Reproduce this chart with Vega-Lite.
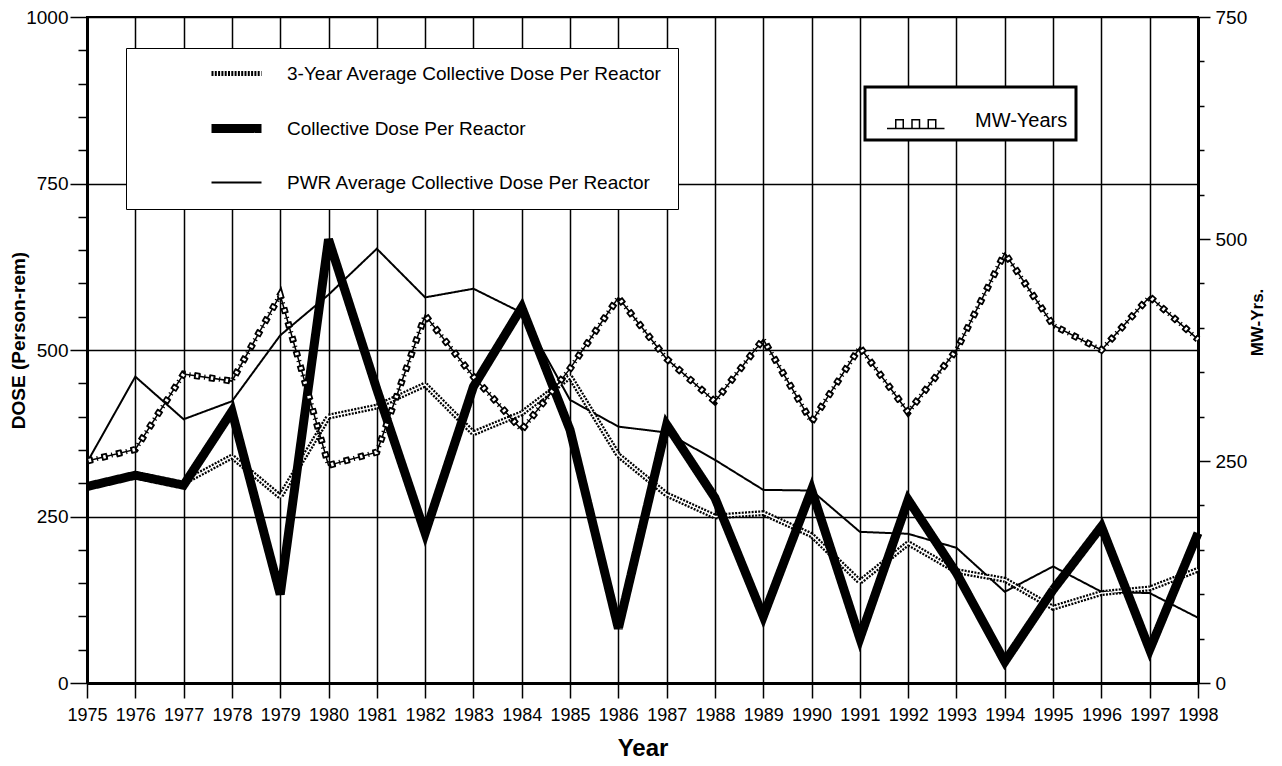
{
  "$schema": "https://vega.github.io/schema/vega-lite/v6.json",
  "width": 1111,
  "height": 666,
  "autosize": "none",
  "padding": {"left": 87, "top": 17, "right": 84, "bottom": 83},
  "background": "white",
  "config": {
    "view": {"stroke": "black", "strokeWidth": 2},
    "axis": {"labelColor": "black", "titleColor": "black", "domainColor": "black", "tickColor": "black", "gridColor": "black"}
  },
  "datasets": {
    "dose": [
      {"year": 1975, "series": "Collective Dose Per Reactor", "value": 295},
      {"year": 1976, "series": "Collective Dose Per Reactor", "value": 312},
      {"year": 1977, "series": "Collective Dose Per Reactor", "value": 297},
      {"year": 1978, "series": "Collective Dose Per Reactor", "value": 408},
      {"year": 1979, "series": "Collective Dose Per Reactor", "value": 133},
      {"year": 1980, "series": "Collective Dose Per Reactor", "value": 666},
      {"year": 1981, "series": "Collective Dose Per Reactor", "value": 441},
      {"year": 1982, "series": "Collective Dose Per Reactor", "value": 225},
      {"year": 1983, "series": "Collective Dose Per Reactor", "value": 445},
      {"year": 1984, "series": "Collective Dose Per Reactor", "value": 564},
      {"year": 1985, "series": "Collective Dose Per Reactor", "value": 380},
      {"year": 1986, "series": "Collective Dose Per Reactor", "value": 82},
      {"year": 1987, "series": "Collective Dose Per Reactor", "value": 388},
      {"year": 1988, "series": "Collective Dose Per Reactor", "value": 278},
      {"year": 1989, "series": "Collective Dose Per Reactor", "value": 100},
      {"year": 1990, "series": "Collective Dose Per Reactor", "value": 290},
      {"year": 1991, "series": "Collective Dose Per Reactor", "value": 67},
      {"year": 1992, "series": "Collective Dose Per Reactor", "value": 275},
      {"year": 1993, "series": "Collective Dose Per Reactor", "value": 165},
      {"year": 1994, "series": "Collective Dose Per Reactor", "value": 32},
      {"year": 1995, "series": "Collective Dose Per Reactor", "value": 140},
      {"year": 1996, "series": "Collective Dose Per Reactor", "value": 235},
      {"year": 1997, "series": "Collective Dose Per Reactor", "value": 50},
      {"year": 1998, "series": "Collective Dose Per Reactor", "value": 225},
      {"year": 1975, "series": "PWR Average Collective Dose Per Reactor", "value": 331},
      {"year": 1976, "series": "PWR Average Collective Dose Per Reactor", "value": 460},
      {"year": 1977, "series": "PWR Average Collective Dose Per Reactor", "value": 396},
      {"year": 1978, "series": "PWR Average Collective Dose Per Reactor", "value": 423},
      {"year": 1979, "series": "PWR Average Collective Dose Per Reactor", "value": 522},
      {"year": 1980, "series": "PWR Average Collective Dose Per Reactor", "value": 583},
      {"year": 1981, "series": "PWR Average Collective Dose Per Reactor", "value": 652},
      {"year": 1982, "series": "PWR Average Collective Dose Per Reactor", "value": 579},
      {"year": 1983, "series": "PWR Average Collective Dose Per Reactor", "value": 592},
      {"year": 1984, "series": "PWR Average Collective Dose Per Reactor", "value": 556},
      {"year": 1985, "series": "PWR Average Collective Dose Per Reactor", "value": 425},
      {"year": 1986, "series": "PWR Average Collective Dose Per Reactor", "value": 385},
      {"year": 1987, "series": "PWR Average Collective Dose Per Reactor", "value": 376},
      {"year": 1988, "series": "PWR Average Collective Dose Per Reactor", "value": 335},
      {"year": 1989, "series": "PWR Average Collective Dose Per Reactor", "value": 290},
      {"year": 1990, "series": "PWR Average Collective Dose Per Reactor", "value": 289},
      {"year": 1991, "series": "PWR Average Collective Dose Per Reactor", "value": 227},
      {"year": 1992, "series": "PWR Average Collective Dose Per Reactor", "value": 224},
      {"year": 1993, "series": "PWR Average Collective Dose Per Reactor", "value": 203},
      {"year": 1994, "series": "PWR Average Collective Dose Per Reactor", "value": 137},
      {"year": 1995, "series": "PWR Average Collective Dose Per Reactor", "value": 175},
      {"year": 1996, "series": "PWR Average Collective Dose Per Reactor", "value": 137},
      {"year": 1997, "series": "PWR Average Collective Dose Per Reactor", "value": 135},
      {"year": 1998, "series": "PWR Average Collective Dose Per Reactor", "value": 98},
      {"year": 1977, "series": "3-Year Average Collective Dose Per Reactor", "value": 301},
      {"year": 1978, "series": "3-Year Average Collective Dose Per Reactor", "value": 340},
      {"year": 1979, "series": "3-Year Average Collective Dose Per Reactor", "value": 280},
      {"year": 1980, "series": "3-Year Average Collective Dose Per Reactor", "value": 400},
      {"year": 1981, "series": "3-Year Average Collective Dose Per Reactor", "value": 415},
      {"year": 1982, "series": "3-Year Average Collective Dose Per Reactor", "value": 448},
      {"year": 1983, "series": "3-Year Average Collective Dose Per Reactor", "value": 375},
      {"year": 1984, "series": "3-Year Average Collective Dose Per Reactor", "value": 405},
      {"year": 1985, "series": "3-Year Average Collective Dose Per Reactor", "value": 460},
      {"year": 1986, "series": "3-Year Average Collective Dose Per Reactor", "value": 342},
      {"year": 1987, "series": "3-Year Average Collective Dose Per Reactor", "value": 283},
      {"year": 1988, "series": "3-Year Average Collective Dose Per Reactor", "value": 250},
      {"year": 1989, "series": "3-Year Average Collective Dose Per Reactor", "value": 255},
      {"year": 1990, "series": "3-Year Average Collective Dose Per Reactor", "value": 222},
      {"year": 1991, "series": "3-Year Average Collective Dose Per Reactor", "value": 152},
      {"year": 1992, "series": "3-Year Average Collective Dose Per Reactor", "value": 210},
      {"year": 1993, "series": "3-Year Average Collective Dose Per Reactor", "value": 168},
      {"year": 1994, "series": "3-Year Average Collective Dose Per Reactor", "value": 155},
      {"year": 1995, "series": "3-Year Average Collective Dose Per Reactor", "value": 113},
      {"year": 1996, "series": "3-Year Average Collective Dose Per Reactor", "value": 135},
      {"year": 1997, "series": "3-Year Average Collective Dose Per Reactor", "value": 142},
      {"year": 1998, "series": "3-Year Average Collective Dose Per Reactor", "value": 170}
    ],
    "mw": [
      {"year": 1975, "label": "MW-Years", "mw": 250},
      {"year": 1976, "label": "MW-Years", "mw": 263},
      {"year": 1977, "label": "MW-Years", "mw": 348},
      {"year": 1978, "label": "MW-Years", "mw": 340},
      {"year": 1979, "label": "MW-Years", "mw": 437},
      {"year": 1980, "label": "MW-Years", "mw": 245},
      {"year": 1981, "label": "MW-Years", "mw": 260},
      {"year": 1982, "label": "MW-Years", "mw": 414},
      {"year": 1983, "label": "MW-Years", "mw": 345},
      {"year": 1984, "label": "MW-Years", "mw": 285},
      {"year": 1985, "label": "MW-Years", "mw": 354},
      {"year": 1986, "label": "MW-Years", "mw": 434},
      {"year": 1987, "label": "MW-Years", "mw": 365},
      {"year": 1988, "label": "MW-Years", "mw": 317},
      {"year": 1989, "label": "MW-Years", "mw": 387},
      {"year": 1990, "label": "MW-Years", "mw": 294},
      {"year": 1991, "label": "MW-Years", "mw": 378},
      {"year": 1992, "label": "MW-Years", "mw": 305},
      {"year": 1993, "label": "MW-Years", "mw": 375},
      {"year": 1994, "label": "MW-Years", "mw": 484},
      {"year": 1995, "label": "MW-Years", "mw": 403},
      {"year": 1996, "label": "MW-Years", "mw": 375},
      {"year": 1997, "label": "MW-Years", "mw": 435},
      {"year": 1998, "label": "MW-Years", "mw": 387}
    ]
  },
  "encoding": {
    "x": {
      "field": "year", "type": "quantitative",
      "scale": {"domain": [1975, 1998], "nice": false, "zero": false},
      "axis": {
        "values": [1975,1976,1977,1978,1979,1980,1981,1982,1983,1984,1985,1986,1987,1988,1989,1990,1991,1992,1993,1994,1995,1996,1997,1998],
        "format": "d", "title": "Year", "labelOverlap": false, "labelFlush": false,
        "grid": true, "gridWidth": 1.5,
        "domainWidth": 3, "tickSize": 15, "tickWidth": 1.5,
        "labelFont": "Liberation Sans", "labelFontSize": 18, "labelPadding": 8,
        "titleFont": "Liberation Sans", "titleFontWeight": "bold", "titleFontSize": 24,
        "titleBaseline": "middle", "titleY": 65
      }
    }
  },
  "layer": [
    {
      "data": {"name": "dose"},
      "encoding": {
        "y": {
          "field": "value", "type": "quantitative",
          "scale": {"domain": [0, 1000], "nice": false},
          "axis": {
            "values": [0,50,100,150,200,250,300,350,400,450,500,550,600,650,700,750,800,850,900,950,1000],
            "format": "d",
            "labelExpr": "datum.value % 250 === 0 ? datum.label : ''",
            "grid": true, "gridWidth": 1.5,
            "gridOpacity": {"condition": {"test": "datum.value % 250 === 0", "value": 1}, "value": 0},
            "tickSize": {"condition": {"test": "datum.value % 250 === 0", "value": 17}, "value": 9},
            "tickWidth": 1.5, "domainWidth": 3,
            "labelFont": "Liberation Sans", "labelFontSize": 19, "labelPadding": 2,
            "title": "DOSE (Person-rem)",
            "titleFont": "Liberation Sans", "titleFontWeight": "bold", "titleFontSize": 19,
            "titleAngle": 270, "titleBaseline": "middle", "titleX": -69, "titleY": 323
          }
        },
        "strokeDash": {"field": "series", "type": "nominal",
          "scale": {"domain": ["3-Year Average Collective Dose Per Reactor", "Collective Dose Per Reactor", "PWR Average Collective Dose Per Reactor"], "range": [[2, 1.3], [1, 0], [1, 0]]},
          "legend": {"title": null, "orient": "none", "legendX": 39, "legendY": 31, "direction": "vertical",
            "symbolType": "stroke", "symbolSize": 2500, "symbolStrokeColor": "black", "symbolOffset": 85,
            "labelFont": "Liberation Sans", "labelFontSize": 19, "labelColor": "black", "labelLimit": 700, "labelOffset": 41,
            "padding": 16, "rowPadding": 26, "fillColor": "white", "strokeColor": "black",
            "encode": {"symbols": {"update": {"strokeWidth": {"signal": "datum.value === 'Collective Dose Per Reactor' ? 9 : (datum.value === 'PWR Average Collective Dose Per Reactor' ? 2 : 5)"}}}}}
        }
      },
      "layer": [
        {
          "transform": [{"filter": "datum.series === 'PWR Average Collective Dose Per Reactor'"}],
          "mark": {"type": "line", "color": "black", "strokeWidth": 2}
        },
        {
          "transform": [{"filter": "datum.series === '3-Year Average Collective Dose Per Reactor'"}],
          "mark": {"type": "line", "color": "black", "strokeWidth": 6}
        },
        {
          "transform": [{"filter": "datum.series === '3-Year Average Collective Dose Per Reactor'"}],
          "mark": {"type": "line", "color": "white", "strokeWidth": 1.5},
          "encoding": {"strokeDash": {"value": [1, 0]}}
        },
        {
          "transform": [{"filter": "datum.series === 'Collective Dose Per Reactor'"}],
          "mark": {"type": "line", "color": "black", "strokeWidth": 9}
        }
      ]
    },
    {
      "data": {"name": "mw"},
      "encoding": {
        "y": {
          "field": "mw", "type": "quantitative",
          "scale": {"domain": [0, 750], "nice": false},
          "axis": {
            "orient": "right",
            "values": [0,50,100,150,200,250,300,350,400,450,500,550,600,650,700,750],
            "format": "d",
            "labelExpr": "datum.value % 250 === 0 ? datum.label : ''",
            "grid": false,
            "tickSize": {"condition": {"test": "datum.value % 250 === 0", "value": 12}, "value": 6},
            "tickWidth": 1.5, "domainWidth": 3,
            "labelFont": "Liberation Sans", "labelFontSize": 19, "labelPadding": 5,
            "title": "MW-Yrs.",
            "titleFont": "Liberation Sans", "titleFontWeight": "bold", "titleFontSize": 17,
            "titleAngle": 270, "titleBaseline": "middle", "titleX": 59, "titleY": 305
          }
        }
      },
      "layer": [
        {
          "mark": {"type": "line", "strokeWidth": 1.5},
          "encoding": {
            "color": {"field": "label", "type": "nominal", "scale": {"range": ["black"]},
              "legend": {"title": null, "orient": "none", "legendX": 778, "legendY": 70,
                "symbolType": "M-1.2,0.3H1.1M-0.85,0.3V-0.05H-0.55V0.3M-0.2,0.3V-0.05H0.1V0.3M0.45,0.3V-0.05H0.75V0.3",
                "symbolSize": 2500, "symbolStrokeWidth": 1.5, "symbolFillColor": "transparent", "symbolStrokeColor": "black",
                "symbolOffset": 18,
                "labelFont": "Liberation Sans", "labelFontSize": 20, "labelColor": "black", "labelOffset": 32,
                "padding": 8, "fillColor": "white", "strokeColor": "black",
                "encode": {"legend": {"update": {"strokeWidth": {"value": 3}}}}}}
          }
        },
        {
          "mark": {"type": "line", "color": "black", "strokeWidth": 5, "strokeDash": [1.2, 3.8]},
          "encoding": {}
        },
        {
          "mark": {"type": "line", "color": "black", "strokeWidth": 7, "strokeDash": [6, 9]},
          "encoding": {}
        },
        {
          "mark": {"type": "line", "color": "white", "strokeWidth": 3.5, "strokeDash": [2.5, 12.5], "strokeDashOffset": -1.75},
          "encoding": {}
        }
      ]
    }
  ],
  "resolve": {"scale": {"y": "independent"}}
}
